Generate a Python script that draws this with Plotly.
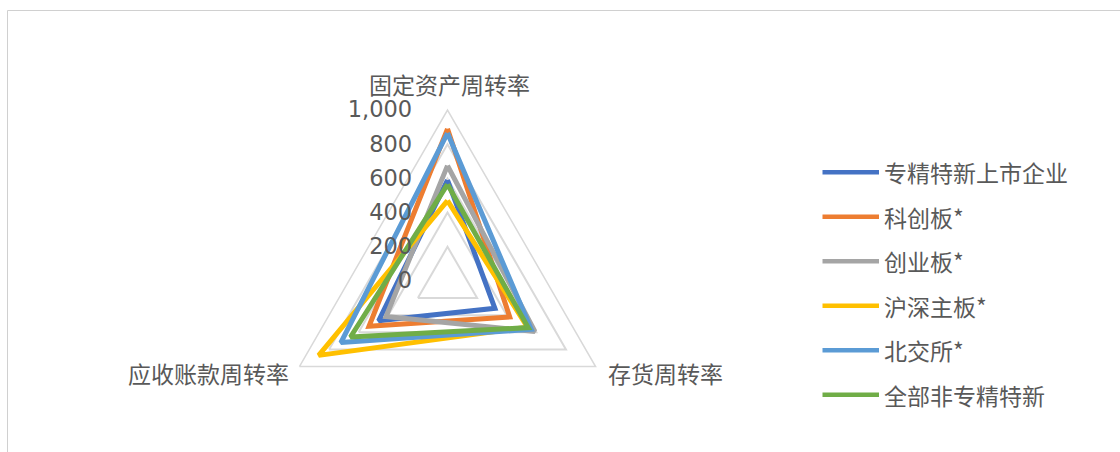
import plotly.graph_objects as go

# Turnover ratios by board (radar)
categories = ["固定资产周转率", "存货周转率", "应收账款周转率"]

series_names = ["专精特新上市企业", "科创板*", "创业板*", "沪深主板*", "北交所*", "全部非专精特新"]
zjtx_listed = [590, 320, 465]
star_market = [890, 420, 530]
chinext = [675, 590, 415]
main_board = [470, 540, 870]
bse = [865, 565, 720]
non_zjtx = [565, 545, 655]

radial_ticks = [0, 200, 400, 600, 800, 1000]

series_values = [zjtx_listed, star_market, chinext, main_board, bse, non_zjtx]
colors = ["#4472C4", "#ED7D31", "#A5A5A5", "#FFC000", "#5B9BD5", "#70AD47"]

W, H = 1120, 452
TEXT = "#595959"
GRID = "#D9D9D9"
CJK = "Noto Sans CJK SC"

fig = go.Figure()
for name, vals, col in zip(series_names, series_values, colors):
    fig.add_trace(go.Scatterpolar(
        r=vals + vals[:1],
        theta=categories + categories[:1],
        mode="lines",
        name=name,
        line=dict(color=col, width=5),
        showlegend=False,
        hoverinfo="skip",
    ))

# polar area: centre (447.5, 281), radius 171 px
cx, cy, R = 447.5, 281.0, 171.0
fig.update_layout(
    width=W, height=H,
    margin=dict(l=0, r=0, t=0, b=0),
    paper_bgcolor="white",
    plot_bgcolor="white",
    polar=dict(
        domain=dict(x=[(cx - R) / W, (cx + R) / W], y=[1 - (cy + R) / H, 1 - (cy - R) / H]),
        gridshape="linear",
        bgcolor="white",
        radialaxis=dict(
            range=[0, 1000],
            tickvals=radial_ticks,
            tickformat=",",
            angle=90,
            tickangle=90,
            side="counterclockwise",
            showline=False,
            ticks="outside",
            ticklen=27,
            tickcolor="rgba(0,0,0,0)",
            gridcolor=GRID,
            gridwidth=1.5,
            tickfont=dict(family="DejaVu Sans", size=22.5, color=TEXT),
        ),
        angularaxis=dict(
            rotation=90,
            direction="clockwise",
            showgrid=False,
            showline=True,
            linecolor=GRID,
            linewidth=1.5,
            ticks="",
            showticklabels=False,
        ),
    ),
)

# category labels at the three vertices
cat_label_pos = [
    (449, 84, "center"),
    (606, 373, "left"),
    (291, 373, "right"),
]
for cat, (lx, ly, anchor) in zip(categories, cat_label_pos):
    fig.add_annotation(xref="paper", yref="paper", x=lx / W, y=1 - ly / H,
                       text=cat, showarrow=False, xanchor=anchor, yanchor="middle",
                       font=dict(family=CJK, size=23, color=TEXT))

# legend drawn as line samples with text
legend_x0, legend_x1 = 822.5, 879.0
legend_y0, legend_dy = 172.3, 44.5
for i, (name, col) in enumerate(zip(series_names, colors)):
    y = legend_y0 + i * legend_dy
    fig.add_shape(type="line", xref="paper", yref="paper",
                  x0=legend_x0 / W, x1=legend_x1 / W, y0=1 - y / H, y1=1 - y / H,
                  line=dict(color=col, width=4.5))
    fig.add_annotation(xref="paper", yref="paper", x=(legend_x1 + 3) / W, y=1 - y / H,
                       text=name, showarrow=False, xanchor="left", yanchor="middle",
                       font=dict(family=CJK, size=23, color=TEXT))

# chart frame
fig.add_shape(type="rect", xref="paper", yref="paper",
              x0=7.5 / W, x1=1130 / W, y0=-0.05, y1=1 - 10.5 / H,
              line=dict(color="#D0D0D0", width=1), fillcolor="rgba(0,0,0,0)", layer="below")

fig.write_html("out.html")
